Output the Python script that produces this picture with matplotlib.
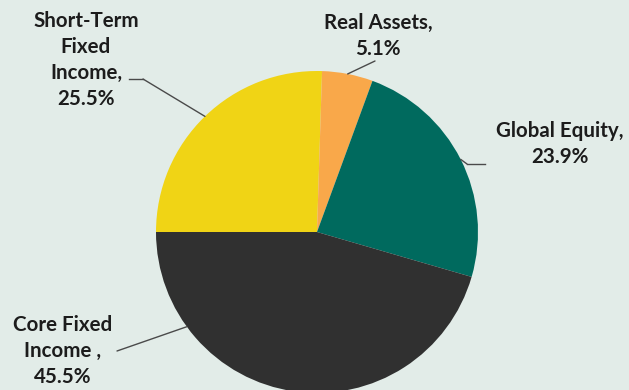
import numpy as np
import matplotlib.pyplot as plt

# Portfolio allocation
labels = ["Short-Term\nFixed\nIncome,", "Real Assets,", "Global Equity,", "Core Fixed\nIncome ,"]
shares = [25.5, 5.1, 23.9, 45.5]
colors = ["#F0D415", "#F9A84A", "#006A5E", "#303030"]

# label block centres and leader bends (figure pixels, from top-left);
# anchor = how far along each wedge the leader meets the rim
label_xy = [(86, 60), (378, 36), (560, 144), (63, 351)]
elbow_xy = [(143, 79), (375, 61), (467, 164), (117, 351)]
line_end = [(129, 79), None, (485, 164), None]
anchor = [0.5, 0.5, 0.5, 0.78]

bg = "#E2ECE8"
W, H = 629, 390
fig = plt.figure(figsize=(W / 100, H / 100), dpi=100, facecolor=bg)

cx, cy, r = 317, 232, 161
ax = fig.add_axes([(cx - r) / W, (H - cy - r) / H, 2 * r / W, 2 * r / H])
ax.set_facecolor(bg)
wedges, _ = ax.pie(shares, colors=colors, startangle=180, counterclock=False,
                   radius=1, wedgeprops=dict(linewidth=0))
ax.set_xlim(-1, 1)
ax.set_ylim(-1, 1)
ax.set_aspect("equal")
ax.axis("off")

font = dict(family=["Lato", "DejaVu Sans"], weight="bold", fontsize=14.8, color="#1C1C1C")
line_kw = dict(color="#4A4A4A", lw=1.0)


def px(x, y):
    return x / W, 1 - y / H


for i, w in enumerate(wedges):
    # pie drawn clockwise: theta2 is where the wedge starts
    ang = np.deg2rad(w.theta2 - anchor[i] * (w.theta2 - w.theta1))
    tip = (np.cos(ang), np.sin(ang))
    fig.text(*px(*label_xy[i]), f"{labels[i]}\n{shares[i]}%", ha="center", va="center",
             linespacing=1.36, **font)
    ex, ey = px(*elbow_xy[i])
    ax.annotate("", xy=tip, xycoords="data", xytext=(ex, ey), textcoords="figure fraction",
                arrowprops=dict(arrowstyle="-", shrinkA=0, shrinkB=0, **line_kw))
    if line_end[i] is not None:
        lx, ly = px(*line_end[i])
        fig.add_artist(plt.Line2D([ex, lx], [ey, ly], transform=fig.transFigure, **line_kw))

fig.savefig("out.png", dpi=100, facecolor=bg)
